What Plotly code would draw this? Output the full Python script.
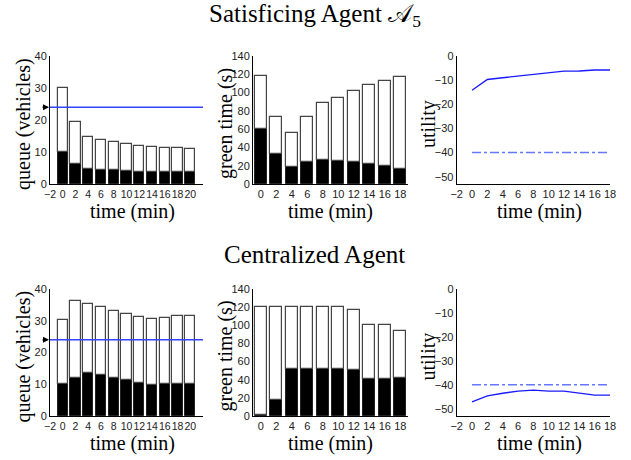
import plotly.graph_objects as go

# ---------------- data ----------------
q_time = [0, 2, 4, 6, 8, 10, 12, 14, 16, 18, 20]
g_time = [0, 2, 4, 6, 8, 10, 12, 14, 16, 18]
u_time = [0, 2, 4, 6, 8, 10, 12, 14, 16, 18]

# Satisficing agent
sat_queue_total = [30.0, 19.4, 14.6, 13.7, 13.1, 12.5, 12.0, 11.6, 11.3, 11.3, 11.0]
sat_queue_black = [10.0, 6.2, 4.7, 4.5, 4.5, 4.2, 3.9, 3.9, 3.9, 3.6, 3.6]
sat_green_total = [118.5, 73.5, 55.5, 73.5, 88.2, 94.5, 101.8, 108.0, 113.0, 116.5]
sat_green_black = [60.3, 32.7, 18.8, 23.9, 26.5, 25.4, 23.9, 22.0, 19.9, 16.9]
sat_utility = [-14.2, -9.7, -9.0, -8.3, -7.5, -6.7, -6.25, -6.2, -5.8, -5.8]

# Centralized agent
cen_queue_total = [30.1, 36.1, 35.3, 34.2, 33.1, 32.2, 31.2, 30.4, 31.0, 31.6, 31.6]
cen_queue_black = [10.0, 12.0, 13.4, 12.9, 12.0, 11.3, 10.4, 9.8, 10.0, 10.0, 10.0]
cen_green_total = [120, 120, 120, 120, 120, 120, 117.3, 100.7, 100.7, 94.1]
cen_green_black = [0.7, 17.6, 52.2, 52.2, 52.2, 52.2, 51.1, 40.8, 40.8, 42.0]
cen_utility = [-47.1, -44.6, -43.5, -42.6, -42.2, -42.6, -42.6, -43.3, -44.3, -44.3]

queue_threshold = 24
utility_threshold = -40

q_ticks = [-2, 0, 2, 4, 6, 8, 10, 12, 14, 16, 18, 20]
g_ticks = [0, 2, 4, 6, 8, 10, 12, 14, 16, 18]
u_ticks = [-2, 0, 2, 4, 6, 8, 10, 12, 14, 16, 18]

titles = ["Satisficing Agent 𝒜<sub>5</sub>", "Centralized Agent"]

# ---------------- layout geometry ----------------
W, H = 631, 460
def px(x):
    return x / W
def py(y):
    return 1 - y / H

cols = [(50, 203), (253, 408), (456.7, 610)]
rows = [(56, 184), (289, 416)]

fig = go.Figure()

tick_font = dict(family="Liberation Sans, Arial, sans-serif", size=11, color="#222")
tick_font_small = dict(family="Liberation Sans, Arial, sans-serif", size=10.5, color="#222")
serif = "Liberation Serif, Times New Roman, serif"

annotations = []

datasets = [
    (sat_queue_total, sat_queue_black, sat_green_total, sat_green_black, sat_utility),
    (cen_queue_total, cen_queue_black, cen_green_total, cen_green_black, cen_utility),
]

ax_idx = 0
for r, (qt, qb, gt, gb, ut) in enumerate(datasets):
    y0, y1 = rows[r]
    for c in range(3):
        ax_idx += 1
        suffix = "" if ax_idx == 1 else str(ax_idx)
        xa, ya = "x" + suffix, "y" + suffix
        xdom = [px(cols[c][0]), px(cols[c][1])]
        ydom = [py(y1), py(y0)]
        common = dict(showline=True, linecolor="black", linewidth=1, showgrid=False,
                      zeroline=False, ticks="", mirror=False,
                      automargin=False, tickangle=0)
        xfont = tick_font
        if c == 0:
            fig.add_trace(go.Bar(x=q_time, y=qb, width=1.6, marker=dict(color="black", line=dict(color="#222", width=1)),
                                 xaxis=xa, yaxis=ya, showlegend=False))
            fig.add_trace(go.Bar(x=q_time, y=[t - b for t, b in zip(qt, qb)], base=qb, width=1.6,
                                 marker=dict(color="white", line=dict(color="#444", width=1.2)),
                                 xaxis=xa, yaxis=ya, showlegend=False))
            fig.add_trace(go.Scatter(x=[-2, 22], y=[queue_threshold, queue_threshold], mode="lines",
                                     line=dict(color="#3344ff", width=1.5), xaxis=xa, yaxis=ya, showlegend=False))
            xr, xt = [-2, 22], q_ticks
            yr, yt = [0, 40], [0, 10, 20, 30, 40]
            ytitle = "queue (vehicles)"
            annotations.append(dict(x=-2, y=queue_threshold, xref=xa, yref=ya, text="", showarrow=True,
                                    arrowhead=2, arrowsize=1, arrowwidth=1.2, arrowcolor="black",
                                    ax=-9, ay=0, standoff=1))
            ytx = 23
            xfont = tick_font_small
        elif c == 1:
            fig.add_trace(go.Bar(x=g_time, y=gb, width=1.6, marker=dict(color="black", line=dict(color="#222", width=1)),
                                 xaxis=xa, yaxis=ya, showlegend=False))
            fig.add_trace(go.Bar(x=g_time, y=[t - b for t, b in zip(gt, gb)], base=gb, width=1.6,
                                 marker=dict(color="white", line=dict(color="#444", width=1.2)),
                                 xaxis=xa, yaxis=ya, showlegend=False))
            xr, xt = [-1, 19], g_ticks
            yr, yt = [0, 140], [0, 20, 40, 60, 80, 100, 120, 140]
            ytitle = "green time (s)"
            ytx = 225
        else:
            fig.add_trace(go.Scatter(x=u_time, y=[utility_threshold] * len(u_time), mode="lines",
                                     line=dict(color="#6677ff", width=1.5, dash="dashdot"),
                                     xaxis=xa, yaxis=ya, showlegend=False))
            fig.add_trace(go.Scatter(x=u_time, y=ut, mode="lines", line=dict(color="#1a1aff", width=1.4),
                                     xaxis=xa, yaxis=ya, showlegend=False))
            xr, xt = [-2, 18], u_ticks
            yr, yt = [-53, 0], [-50, -40, -30, -20, -10, 0]
            ytitle = "utility"
            ytx = 428
        fig.layout["xaxis" + suffix] = dict(domain=xdom, range=xr, tickvals=xt, anchor=ya, tickfont=xfont, **common)
        fig.layout["yaxis" + suffix] = dict(domain=ydom, range=yr, tickvals=yt, anchor=xa, tickfont=tick_font, **common)
        # axis titles
        annotations.append(dict(x=px((cols[c][0] + cols[c][1]) / 2 + (6 if c != 1 else 0)), y=py(y1 + 27),
                                xref="paper", yref="paper", text="time (min)", showarrow=False,
                                font=dict(family=serif, size=20, color="black"), xanchor="center", yanchor="middle"))
        annotations.append(dict(x=px(ytx), y=py((y0 + y1) / 2 + 4), xref="paper", yref="paper", text=ytitle,
                                showarrow=False, textangle=-90,
                                font=dict(family=serif, size=20, color="black"), xanchor="center", yanchor="middle"))

# section titles
annotations.append(dict(x=px(315), y=py(15), xref="paper", yref="paper", text=titles[0], showarrow=False,
                        font=dict(family=serif, size=25, color="black"), xanchor="center", yanchor="middle"))
annotations.append(dict(x=px(314), y=py(254), xref="paper", yref="paper", text=titles[1], showarrow=False,
                        font=dict(family=serif, size=25, color="black"), xanchor="center", yanchor="middle"))

fig.update_layout(template="none", width=W, height=H, margin=dict(l=0, r=0, t=0, b=0), paper_bgcolor="white",
                  plot_bgcolor="white", barmode="overlay", annotations=annotations, bargap=0,
                  font=dict(family="Liberation Sans, Arial, sans-serif", color="#222"))

fig.write_html("out.html", config={"displayModeBar": False},
               post_script="document.body.style.margin='0px';")
